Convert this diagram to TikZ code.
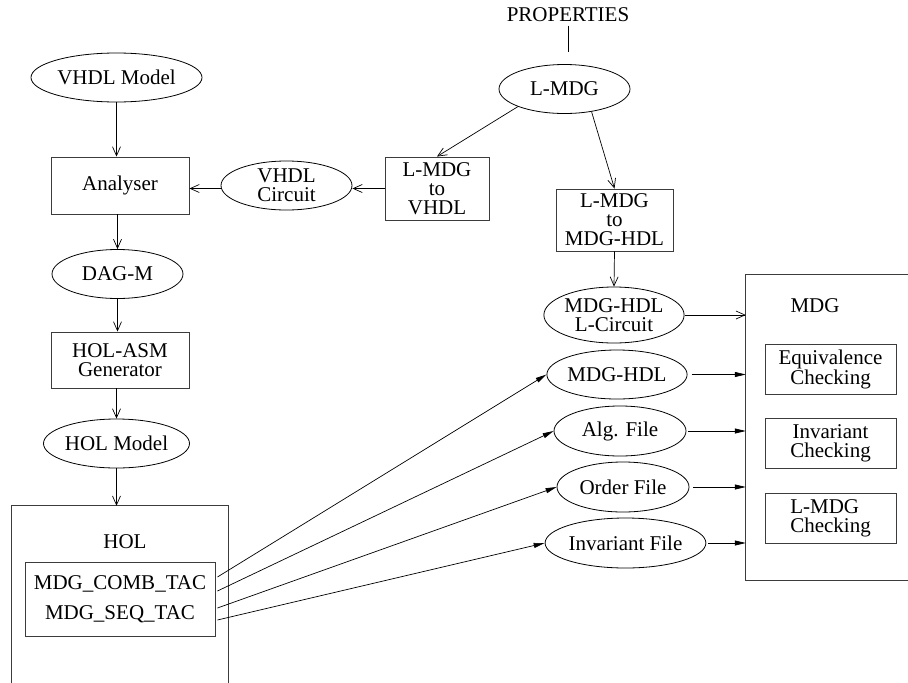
\documentclass[tikz,border=0pt]{standalone}
\usepackage{fontspec}
\setmainfont{Liberation Serif}
\usepackage{tikz}
\usepackage{xcolor}
\usetikzlibrary{shapes,arrows.meta,calc}
\definecolor{edgegray}{RGB}{60,60,60}

\begin{document}
\begin{tikzpicture}[x=1pt, y=-1pt,
                    every node/.style={font=\fontsize{21}{19}\selectfont, align=center},
                    dataoval/.style={ellipse, draw, line width=0.8pt, inner sep=0pt, minimum width=131pt, minimum height=49pt},
                    procbox/.style={rectangle, draw=edgegray, line width=0.9pt, inner sep=0pt},
                    openarrow/.style={-{Straight Barb[length=9pt,width=8pt]}, line width=0.7pt},
                    fillarrow/.style={-{Triangle[length=11pt,width=5pt]}, line width=0.7pt}]
                    \useasboundingbox (0,0) rectangle (908,683);

                    \node (props) at (568,15) {PROPERTIES};
                    \coordinate (propsend) at (568,52);
                    \node[dataoval] (lmdg) at (564.5,89) {L-MDG};

                    \node[dataoval, minimum width=171pt] (vhdlmodel) at (116.5,77.5) {VHDL Model};
                    \node[procbox, minimum width=138pt, minimum height=57pt] (analyser) at (120,185.5) {Analyser};
                    \node[dataoval] (vhdlcirc) at (286.5,185.5) {VHDL\\Circuit};
                    \node[procbox, minimum width=104pt, minimum height=63pt] (lmdgvhdl) at (437,188.5) {L-MDG\\to\\VHDL};
                    \node[dataoval] (dagm) at (117.5,274) {DAG-M};
                    \node[procbox, minimum width=138pt, minimum height=56pt] (holasm) at (120,360) {HOL-ASM\\Generator};
                    \node[dataoval] (holmodel) at (116.5,443.5) {HOL Model};

                    \node[minimum width=216pt, minimum height=177pt, inner sep=0pt] (holsys) at (120,594.5) {};
                    \node (holtitle) at (125,542) {HOL};
                    \node[procbox, minimum width=190pt, minimum height=74pt] (tacs) at (120,599) {MDG\_COMB\_TAC\\[11pt]MDG\_SEQ\_TAC};

                    \node[procbox, minimum width=117pt, minimum height=62pt] (lmdgmdg) at (614.5,220) {L-MDG\\to\\MDG-HDL};
                    \node[dataoval, minimum width=132pt, minimum height=56pt] (lcirc) at (614,315) {MDG-HDL\\L-Circuit};
                    \node[dataoval, minimum width=130pt] (mdghdl) at (617,374.5) {MDG-HDL};
                    \node[dataoval, minimum width=132pt, minimum height=50pt] (algfile) at (620,431) {Alg. File};
                    \node[dataoval, minimum width=132pt, minimum height=50pt] (orderfile) at (623,487) {Order File};
                    \node[dataoval, minimum width=133pt, minimum height=50pt] (invfile) at (625.5,543) {Invariant File};

                    \node[minimum width=162pt, minimum height=305pt, inner sep=0pt] (mdgsys) at (827,427.5) {};
                    \node (mdgtitle) at (815,306) {MDG};
                    \node[procbox, minimum width=131pt, minimum height=50pt] (equiv) at (830.5,369) {Equivalence\\Checking};
                    \node[procbox, minimum width=131pt, minimum height=50pt] (invchk) at (830.5,443.5) {Invariant\\Checking};
                    \node[procbox, minimum width=131pt, minimum height=50pt, align=left] (lmdgchk) at (830.5,518) {L-MDG\\Checking};

                    \draw[draw=edgegray, line width=0.9pt] (holsys.south west) -- (holsys.north west) -- (holsys.north east) -- (holsys.south east);
                    \draw[draw=edgegray, line width=0.9pt] (mdgsys.north east) -- (mdgsys.north west) -- (mdgsys.south west) -- (mdgsys.south east);

                    \draw[line width=0.7pt] (props.south) -- (propsend);
                    \draw[openarrow] (lmdg.south west) -- (lmdgvhdl.north);
                    \draw[openarrow] (lmdg.-40) -- (lmdgmdg.north);
                    \draw[openarrow] (lmdgvhdl.west) -- (lmdgvhdl.west -| vhdlcirc.east);
                    \draw[openarrow] (vhdlcirc.west |- lmdgvhdl.west) -- (lmdgvhdl.west -| analyser.east);
                    \draw[openarrow] (vhdlmodel.south) -- (vhdlmodel.south |- analyser.north);
                    \draw[openarrow] (analyser.south -| dagm.north) -- (dagm.north);
                    \draw[openarrow] (dagm.south) -- (dagm.south |- holasm.north);
                    \draw[openarrow] (holasm.south -| holmodel.north) -- (holmodel.north);
                    \draw[openarrow] (holmodel.south) -- (holmodel.south |- holsys.north);
                    \draw[openarrow] (lmdgmdg.south) -- (lcirc.north);
                    \draw[openarrow] (lcirc.east) -- (lcirc.east -| mdgsys.west);

                    \draw[fillarrow] ([xshift=2pt, yshift=22pt]tacs.east) -- (mdghdl.west);
                    \draw[fillarrow] ([xshift=2pt, yshift=8pt]tacs.east) -- (algfile.west);
                    \draw[fillarrow] ([xshift=2pt, yshift=-9pt]tacs.east) -- (orderfile.west);
                    \draw[fillarrow] ([xshift=2pt, yshift=-21pt]tacs.east) -- (invfile.west);

                    \draw[fillarrow] ([xshift=4pt]mdghdl.east) -- (mdghdl.east -| mdgsys.west);
                    \draw[fillarrow] ([xshift=2pt]algfile.east) -- (algfile.east -| mdgsys.west);
                    \draw[fillarrow] ([xshift=4pt]orderfile.east) -- (orderfile.east -| mdgsys.west);
                    \draw[fillarrow] ([xshift=2pt]invfile.east) -- (invfile.east -| mdgsys.west);
                \end{tikzpicture}
\end{document}
